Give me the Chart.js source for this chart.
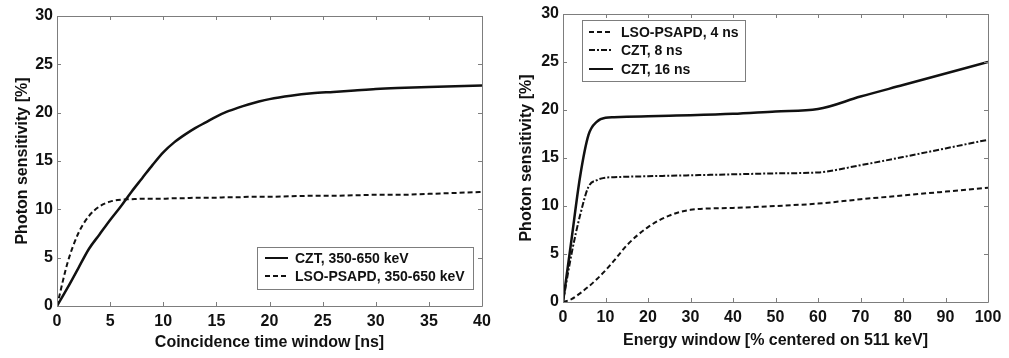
<!DOCTYPE html>
<html>
<head>
<meta charset="utf-8">
<script src="https://cdn.jsdelivr.net/npm/chart.js@4"></script>
<style>
  html, body { margin: 0; padding: 0; background: #fff; }
  body { width: 1009px; height: 358px; position: relative; overflow: hidden; }
  .box { position: absolute; top: 0; height: 358px; }
  #b1 { left: 0; width: 505px; }
  #b2 { left: 505px; width: 504px; }
</style>
</head>
<body>
<div class="box" id="b1"><canvas id="c1"></canvas></div>
<div class="box" id="b2"><canvas id="c2"></canvas></div>
<script>
// ---- Left chart data ----
const leftTimeNs = [0, 1, 2, 3, 4, 5, 6, 7, 8, 9, 10, 11, 12, 13, 14, 15, 16, 17, 18, 19, 20, 22, 24, 26, 28, 30, 32, 35, 40];
const leftCZT = [0, 1.9, 3.9, 5.9, 7.4, 8.9, 10.3, 11.8, 13.2, 14.6, 15.9, 16.9, 17.7, 18.4, 19.0, 19.6, 20.1, 20.5, 20.85, 21.15, 21.4, 21.75, 22.0, 22.15, 22.3, 22.45, 22.55, 22.65, 22.8];
const leftLSO = [0, 4.5, 7.5, 9.3, 10.3, 10.8, 11.0, 11.05, 11.1, 11.1, 11.1, 11.15, 11.15, 11.2, 11.2, 11.2, 11.25, 11.25, 11.3, 11.3, 11.3, 11.35, 11.4, 11.4, 11.45, 11.5, 11.5, 11.6, 11.8];
const leftLabels = ['CZT, 350-650 keV', 'LSO-PSAPD, 350-650 keV'];

// ---- Right chart data ----
const rightEnergyPct = [0, 2, 4, 6, 8, 10, 12, 15, 20, 25, 30, 40, 50, 60, 70, 80, 90, 100];
const rightLSO4 = [0, 0.3, 0.9, 1.6, 2.4, 3.3, 4.3, 5.9, 7.8, 9.0, 9.6, 9.8, 10.0, 10.25, 10.7, 11.1, 11.5, 11.9];
const rightCZT8 = [0, 5.0, 9.0, 12.0, 12.7, 12.95, 13.0, 13.05, 13.1, 13.15, 13.2, 13.3, 13.4, 13.5, 14.25, 15.1, 16.0, 16.9];
const rightCZT16 = [0, 6.5, 13.0, 17.4, 18.8, 19.2, 19.25, 19.3, 19.35, 19.4, 19.45, 19.6, 19.85, 20.1, 21.4, 22.6, 23.8, 25.0];
const rightLabels = ['LSO-PSAPD, 4 ns', 'CZT, 8 ns', 'CZT, 16 ns'];

const yTicks = [0, 5, 10, 15, 20, 25, 30];

const FONT = 'Liberation Sans, Arial, sans-serif';
const INK = '#111';
const AXIS = '#7d7d7d';

function pts(xs, ys) { return xs.map((x, i) => ({ x: x, y: ys[i] })); }

// Box + inward ticks on all four sides, drawn from the chart's own scales
const frameTicks = {
  id: 'frameTicks',
  afterDraw(chart) {
    const { ctx, chartArea: a, scales } = chart;
    const len = 4;
    ctx.save();
    ctx.strokeStyle = AXIS;
    ctx.lineWidth = 1;
    ctx.beginPath();
    ctx.rect(Math.round(a.left) + 0.5, Math.round(a.top) + 0.5, Math.round(a.right - a.left), Math.round(a.bottom - a.top));
    scales.x.ticks.forEach(t => {
      const px = Math.round(scales.x.getPixelForValue(t.value)) + 0.5;
      ctx.moveTo(px, a.bottom); ctx.lineTo(px, a.bottom - len);
      ctx.moveTo(px, a.top); ctx.lineTo(px, a.top + len);
    });
    scales.y.ticks.forEach(t => {
      const py = Math.round(scales.y.getPixelForValue(t.value)) + 0.5;
      ctx.moveTo(a.left, py); ctx.lineTo(a.left + len, py);
      ctx.moveTo(a.right, py); ctx.lineTo(a.right - len, py);
    });
    ctx.stroke();
    ctx.restore();
  }
};

// Boxed legend drawn from dataset labels/styles
const boxLegend = {
  id: 'boxLegend',
  afterDraw(chart, args, opts) {
    const { ctx } = chart;
    const b = opts.box;
    ctx.save();
    ctx.fillStyle = '#fff';
    ctx.fillRect(b.x, b.y, b.w, b.h);
    ctx.strokeStyle = AXIS;
    ctx.lineWidth = 1;
    ctx.strokeRect(b.x + 0.5, b.y + 0.5, b.w, b.h);
    ctx.font = 'bold 14px ' + FONT;
    ctx.textBaseline = 'middle';
    ctx.fillStyle = INK;
    opts.order.forEach((di, i) => {
      const ds = chart.data.datasets[di];
      const y = opts.rowY[i];
      ctx.beginPath();
      ctx.strokeStyle = ds.borderColor;
      ctx.lineWidth = 2;
      ctx.setLineDash(ds.borderDash || []);
      ctx.moveTo(opts.lineX0, y);
      ctx.lineTo(opts.lineX1, y);
      ctx.stroke();
      ctx.setLineDash([]);
      ctx.fillText(ds.label, opts.textX, y + 1);
    });
    ctx.restore();
  }
};

function makeOptions(cfg) {
  return {
    responsive: true,
    maintainAspectRatio: false,
    animation: false,
    layout: { padding: { top: cfg.top, right: cfg.right, left: 0, bottom: 0 } },
    plugins: {
      legend: { display: false },
      tooltip: { enabled: false },
      boxLegend: cfg.legend
    },
    elements: { point: { radius: 0 }, line: { cubicInterpolationMode: 'monotone' } },
    scales: {
      x: {
        type: 'linear', min: cfg.xmin, max: cfg.xmax,
        afterFit: s => { s.height = cfg.xh; },
        afterBuildTicks: s => { s.ticks = cfg.xTicks.map(v => ({ value: v })); },
        grid: { display: false, drawTicks: false },
        border: { display: false },
        ticks: { color: INK, padding: 6, maxRotation: 0, autoSkip: false, font: { family: FONT, size: 16, weight: 'bold' } },
        title: { display: true, text: cfg.xTitle, color: INK, padding: { top: 0, bottom: cfg.xTitlePad }, font: { family: FONT, size: 16, weight: 'bold' } }
      },
      y: {
        type: 'linear', min: 0, max: 30,
        afterFit: s => { s.width = cfg.yw; },
        afterBuildTicks: s => { s.ticks = yTicks.map(v => ({ value: v })); },
        grid: { display: false, drawTicks: false },
        border: { display: false },
        ticks: { color: INK, padding: 4, autoSkip: false, font: { family: FONT, size: 16, weight: 'bold' } },
        title: { display: true, text: 'Photon sensitivity [%]', color: INK, padding: { top: cfg.yTitlePad, bottom: 0 }, font: { family: FONT, size: 16, weight: 'bold' } }
      }
    }
  };
}

new Chart(document.getElementById('c1'), {
  type: 'line',
  data: {
    datasets: [
      { label: leftLabels[0], data: pts(leftTimeNs, leftCZT), borderColor: INK, borderWidth: 2.5, fill: false },
      { label: leftLabels[1], data: pts(leftTimeNs, leftLSO), borderColor: INK, borderWidth: 2, borderDash: [5, 3], fill: false }
    ]
  },
  options: makeOptions({
    top: 16, right: 23, xh: 52, yw: 57, xmin: 0, xmax: 40,
    xTicks: [0, 5, 10, 15, 20, 25, 30, 35, 40],
    xTitle: 'Coincidence time window [ns]', xTitlePad: 6, yTitlePad: 13,
    legend: { box: { x: 257, y: 247, w: 216, h: 42 }, order: [0, 1], rowY: [258, 276], lineX0: 265, lineX1: 288, textX: 295 }
  }),
  plugins: [frameTicks, boxLegend]
});

new Chart(document.getElementById('c2'), {
  type: 'line',
  data: {
    datasets: [
      { label: rightLabels[0], data: pts(rightEnergyPct, rightLSO4), borderColor: INK, borderWidth: 2, borderDash: [5, 3], fill: false },
      { label: rightLabels[1], data: pts(rightEnergyPct, rightCZT8), borderColor: INK, borderWidth: 2, borderDash: [6, 2, 2, 2], fill: false },
      { label: rightLabels[2], data: pts(rightEnergyPct, rightCZT16), borderColor: INK, borderWidth: 2.5, fill: false }
    ]
  },
  options: makeOptions({
    top: 14, right: 21, xh: 56, yw: 58, xmin: 0, xmax: 100,
    xTicks: [0, 10, 20, 30, 40, 50, 60, 70, 80, 90, 100],
    xTitle: 'Energy window [% centered on 511 keV]', xTitlePad: 8, yTitlePad: 12,
    legend: { box: { x: 77, y: 20, w: 163, h: 61 }, order: [0, 1, 2], rowY: [32, 50, 69], lineX0: 84, lineX1: 108, textX: 116 }
  }),
  plugins: [frameTicks, boxLegend]
});
</script>
</body>
</html>
